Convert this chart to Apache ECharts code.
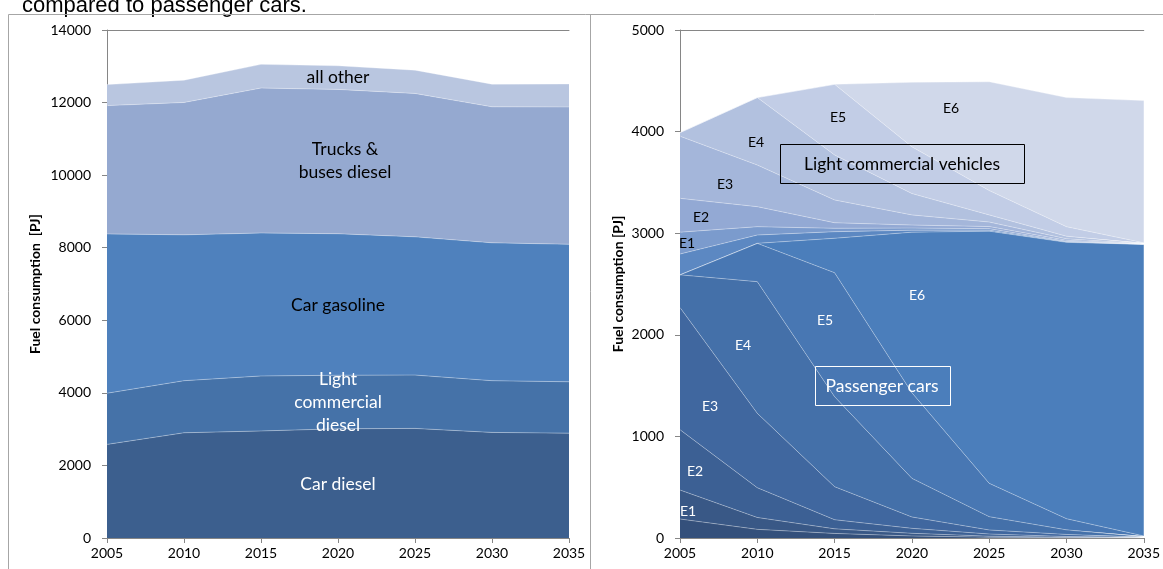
<!DOCTYPE html>
<html>
<head>
<meta charset="utf-8">
<title>Fuel consumption</title>
<script src="https://cdn.jsdelivr.net/npm/echarts@6/dist/echarts.min.js"></script>
<style>
  html, body { margin: 0; padding: 0; background: #fff; }
  #chart { width: 1163px; height: 569px; }
</style>
</head>
<body>
<div id="chart"></div>
<script>
  // years on both x axes
  var years = ['2005', '2010', '2015', '2020', '2025', '2030', '2035'];

  // left chart: fuel consumption by vehicle type [PJ]
  var carDiesel   = [2580, 2900, 2950, 3010, 3020, 2910, 2890];
  var lcvDiesel   = [1410, 1435, 1515, 1475, 1470, 1425, 1415];
  var carGasoline = [4390, 4020, 3940, 3900, 3810, 3800, 3790];
  var trucksBuses = [3536, 3648, 3995, 3978, 3951, 3748, 3784];
  var allOther    = [579, 614, 653, 651, 642, 624, 633];

  // right chart: diesel passenger cars by euro class
  var pcE0 = [187, 85, 45, 20, 8, 3, 0];
  var pcE1 = [285, 117, 45, 26, 10, 5, 2];
  var pcE2 = [594, 293, 90, 49, 21, 7, 2];
  var pcE3 = [1202, 732, 325, 112, 40, 20, 4];
  var pcE4 = [322, 1296, 886, 380, 131, 45, 4];
  var pcE5 = [0, 377, 1220, 843, 328, 110, 8];
  var pcE6 = [0, 0, 339, 1580, 2482, 2720, 2870];

  // right chart: diesel light commercial vehicles by euro class
  var lcvE0 = [205, 82, 65, 20, 10, 5, 0];
  var lcvE1 = [215, 82, 33, 20, 15, 5, 2];
  var lcvE2 = [333, 197, 55, 30, 20, 10, 2];
  var lcvE3 = [612, 410, 224, 100, 45, 15, 2];
  var lcvE4 = [35, 664, 443, 210, 70, 25, 2];
  var lcvE5 = [0, 0, 695, 460, 240, 94, 7];
  var lcvE6 = [0, 0, 0, 635, 1070, 1271, 1400];

  var leftTicks = [0, 14000, 2000];
  var rightTicks = [0, 5000, 1000];

  var font = 'Lato, "Open Sans", sans-serif';
  var edge = 'rgba(255,255,255,0.45)';

  function area(name, data, color, idx, stack) {
    return {
      name: name,
      type: 'line',
      xAxisIndex: idx,
      yAxisIndex: idx,
      stack: stack,
      data: data,
      symbol: 'none',
      silent: true,
      lineStyle: { width: 0.7, color: edge },
      areaStyle: { color: color, opacity: 1 }
    };
  }

  function xAx(idx) {
    return {
      type: 'category', gridIndex: idx, data: years, boundaryGap: false,
      axisLine: { lineStyle: { color: '#868686', width: 1 } },
      axisTick: { show: true, length: 5, lineStyle: { color: '#868686' } },
      axisLabel: { color: '#000', fontSize: 14, fontFamily: font, margin: 8, showMaxLabel: true }
    };
  }
  function topAx(idx) {
    return {
      type: 'category', gridIndex: idx, data: years, boundaryGap: false, position: 'top',
      axisLine: { lineStyle: { color: '#868686', width: 1 } },
      axisTick: { show: false }, axisLabel: { show: false }
    };
  }
  function yAx(idx, t, gap) {
    return {
      type: 'value', gridIndex: idx, min: t[0], max: t[1], interval: t[2],
      name: 'Fuel consumption' + (idx === 0 ? '  ' : ' ') + '[PJ]',
      nameLocation: 'middle', nameGap: gap,
      nameTextStyle: { color: '#000', fontSize: 14, fontWeight: 'bold', fontFamily: font },
      axisLine: { show: true, lineStyle: { color: '#868686' } },
      axisTick: { show: true, length: 5, lineStyle: { color: '#868686' } },
      axisLabel: { color: '#000', fontSize: 14, fontFamily: font, margin: 16,
                   formatter: function (v) { return String(v); } },
      splitLine: { show: false }
    };
  }

  function txt(s, x, y, color, size) {
    return {
      type: 'text', silent: true, z: 100,
      style: {
        text: s, x: x, y: y, fill: color,
        font: (size || 17.5) + 'px ' + font,
        align: 'center', verticalAlign: 'middle', lineHeight: 23
      }
    };
  }
  function frameLine(x1, y1, x2, y2) {
    return {
      type: 'line', silent: true, z: 100,
      shape: { x1: x1, y1: y1, x2: x2, y2: y2 },
      style: { stroke: '#a6a6a6', lineWidth: 1 }
    };
  }

  var myChart = echarts.init(document.getElementById('chart'), null, { renderer: 'canvas' });

  var option = {
    backgroundColor: '#fff',
    animation: false,
    grid: [
      { left: 107, top: 30, width: 462, height: 508 },
      { left: 680, top: 30, width: 470, height: 508 }
    ],
    xAxis: [xAx(0), xAx(1), topAx(0), topAx(1)],
    yAxis: [yAx(0, leftTicks, 65), yAx(1, rightTicks, 55)],
    series: [
      area('Car diesel', carDiesel, '#3c5f8e', 0, 'left'),
      area('Light commercial diesel', lcvDiesel, '#4572a8', 0, 'left'),
      area('Car gasoline', carGasoline, '#4f81bd', 0, 'left'),
      area('Trucks & buses diesel', trucksBuses, '#95a9d0', 0, 'left'),
      area('all other', allOther, '#b9c6e0', 0, 'left'),

      area('PC E0', pcE0, '#34507b', 1, 'right'),
      area('PC E1', pcE1, '#395886', 1, 'right'),
      area('PC E2', pcE2, '#3c6094', 1, 'right'),
      area('PC E3', pcE3, '#40679f', 1, 'right'),
      area('PC E4', pcE4, '#4470a9', 1, 'right'),
      area('PC E5', pcE5, '#4877b3', 1, 'right'),
      area('PC E6', pcE6, '#4b7ebb', 1, 'right'),
      area('LCV E0', lcvE0, '#5c88c2', 1, 'right'),
      area('LCV E1', lcvE1, '#7b9bcd', 1, 'right'),
      area('LCV E2', lcvE2, '#93a9d4', 1, 'right'),
      area('LCV E3', lcvE3, '#a4b6da', 1, 'right'),
      area('LCV E4', lcvE4, '#b2c1df', 1, 'right'),
      area('LCV E5', lcvE5, '#c2cde6', 1, 'right'),
      area('LCV E6', lcvE6, '#d0d8ea', 1, 'right')
    ],
    graphic: [
      {
        type: 'text', silent: true,
        style: { text: 'compared to passenger cars.', x: 22, y: 6, fill: '#000',
                 font: '22px "Liberation Sans", Arial, sans-serif', verticalAlign: 'middle' }
      },
      frameLine(8.5, 14.5, 1163, 14.5),
      frameLine(8.5, 14.5, 8.5, 569),
      frameLine(590.5, 14.5, 590.5, 569),

      txt('all other', 338, 77, '#000'),
      txt('Trucks &\nbuses diesel', 345, 161, '#000'),
      txt('Car gasoline', 338, 305, '#000'),
      txt('Light\ncommercial\ndiesel', 338, 402, '#fff'),
      txt('Car diesel', 338, 484, '#fff'),

      txt('E1', 688, 511, '#fff', 14),
      txt('E2', 695, 471, '#fff', 14),
      txt('E3', 710, 406, '#fff', 14),
      txt('E4', 743, 345, '#fff', 14),
      txt('E5', 825, 320, '#fff', 14),
      txt('E6', 917, 295, '#fff', 14),
      txt('E1', 687, 243, '#000', 14),
      txt('E2', 701, 217, '#000', 14),
      txt('E3', 725, 184, '#000', 14),
      txt('E4', 756, 142, '#000', 14),
      txt('E5', 838, 117, '#000', 14),
      txt('E6', 951, 108, '#000', 14),

      {
        type: 'rect', silent: true, z: 100,
        shape: { x: 780.5, y: 144.5, width: 244, height: 39 },
        style: { fill: 'none', stroke: '#000', lineWidth: 1 }
      },
      txt('Light commercial vehicles', 902, 164, '#000'),
      {
        type: 'rect', silent: true, z: 100,
        shape: { x: 815.5, y: 366.5, width: 135, height: 39 },
        style: { fill: 'none', stroke: '#fff', lineWidth: 1 }
      },
      txt('Passenger cars', 882, 386, '#fff')
    ]
  };

  if (option && typeof option === "object") {
    myChart.setOption(option, true);
  }
</script>
</body>
</html>
